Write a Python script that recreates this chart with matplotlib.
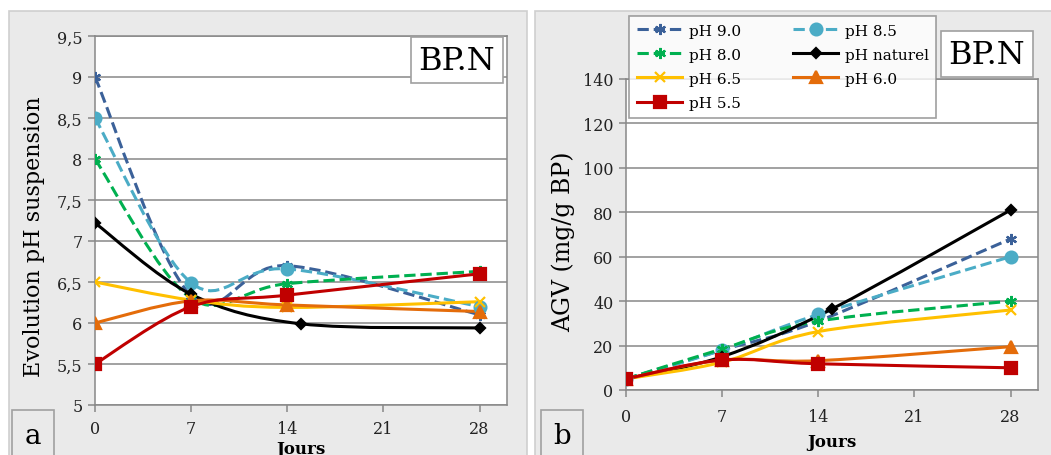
import numpy as np
import matplotlib
matplotlib.use('Agg')
import matplotlib.pyplot as plt
from matplotlib.path import Path
from matplotlib.patches import PathPatch, Rectangle
from matplotlib.lines import Line2D
from matplotlib.ticker import FuncFormatter

plt.rcParams['font.family'] = ['DejaVu Serif']

# --- données ---
jours = [0, 7, 14, 28]
jours_naturel = [0, 7, 15, 28]

labels = ['pH 9.0', 'pH 8.5', 'pH 8.0', 'pH naturel', 'pH 6.5', 'pH 6.0', 'pH 5.5']

# a : évolution du pH de la suspension
ph_90 = [9.0, 6.33, 6.70, 6.10]
ph_85 = [8.5, 6.49, 6.66, 6.20]
ph_80 = [8.0, 6.30, 6.48, 6.63]
ph_nat = [7.22, 6.35, 5.99, 5.94]
ph_65 = [6.5, 6.28, 6.19, 6.26]
ph_60 = [6.0, 6.27, 6.22, 6.14]
ph_55 = [5.5, 6.20, 6.34, 6.60]

# b : AGV (mg/g BP)
agv_90 = [5, 18, 31, 68]
agv_85 = [5, 18, 34, 60]
agv_80 = [5, 18.5, 31, 40]
agv_nat = [5, 15, 36.5, 81]
agv_65 = [5, 12.5, 26.3, 36]
agv_60 = [5, 13.5, 13.2, 19.5]
agv_55 = [5, 13.5, 11.8, 10]

colors = ['#3B6199', '#4BACC6', '#00B050', '#000000', '#FFC000', '#E46C0A', '#C00000']
styles = ['--', '--', '--', '-', '-', '-', '-']
markers = [(6, 2, 0), 'o', (6, 2, 0), 'D', 'x', '^', 's']
msizes = [8, 8.5, 8, 5.5, 7.5, 8, 8]


def smooth_path(x, y):
    """Courbe lissée façon Excel (Bézier type Catmull-Rom)."""
    p = np.column_stack([x, y]).astype(float)
    n = len(p)
    verts = [p[0]]
    codes = [Path.MOVETO]
    for i in range(n - 1):
        p0 = p[i - 1] if i > 0 else p[i]
        p3 = p[i + 2] if i + 2 < n else p[i + 1]
        c1 = p[i] + (p[i + 1] - p0) / 6
        c2 = p[i + 1] - (p3 - p[i]) / 6
        verts += [c1, c2, p[i + 1]]
        codes += [Path.CURVE4] * 3
    return Path(verts, codes)


def draw_series(ax, xs, series):
    for k, ys in enumerate(series):
        patch = PathPatch(smooth_path(xs[k], ys), facecolor='none',
                          edgecolor=colors[k], lw=2.2, linestyle=styles[k],
                          zorder=3, capstyle='butt')
        ax.add_patch(patch)
        ax.plot(xs[k], ys, linestyle='none', marker=markers[k],
                markersize=msizes[k], color=colors[k], mec=colors[k],
                mew=1.6, zorder=4)


fig = plt.figure(figsize=(10.51, 4.56), dpi=100)
fig.patch.set_facecolor('white')

# cadres gris des deux panneaux
for x0 in (9 / 1051, 535 / 1051):
    fig.add_artist(Rectangle((x0, -0.02), 518 / 1051, 1 - 12 / 456 + 0.02,
                             transform=fig.transFigure, facecolor='#EAEAEA',
                             edgecolor='#CFCFCF', lw=1.2, zorder=0))

ax1 = fig.add_axes([95 / 1051, 1 - 406 / 456, 412 / 1051, 369 / 456])
ax2 = fig.add_axes([626 / 1051, 1 - 391 / 456, 412 / 1051, 311 / 456])

xs = [jours, jours, jours, jours_naturel, jours, jours, jours]
draw_series(ax1, xs, [ph_90, ph_85, ph_80, ph_nat, ph_65, ph_60, ph_55])
draw_series(ax2, xs, [agv_90, agv_85, agv_80, agv_nat, agv_65, agv_60, agv_55])

ax1.set_ylim(5, 9.5)
ax1.set_yticks(np.arange(5, 9.51, 0.5))
ax1.yaxis.set_major_formatter(FuncFormatter(
    lambda v, _: ('%g' % v).replace('.', ',')))
ax2.set_ylim(0, 140)
ax2.set_yticks(range(0, 141, 20))

for ax in (ax1, ax2):
    ax.set_facecolor('white')
    ax.set_xlim(0, 30)
    ax.set_xticks([0, 7, 14, 21, 28])
    ax.grid(axis='y', color='#888888', lw=1.1)
    ax.set_axisbelow(True)
    for s in ax.spines.values():
        s.set_color('#888888')
        s.set_linewidth(1.1)
    ax.tick_params(axis='both', colors='#888888', labelcolor='#222222',
                   labelsize=11.5, length=5, width=1.1, pad=4)
ax1.tick_params(axis='x', pad=6)
ax2.tick_params(axis='x', pad=8)

ax1.set_ylabel('Evolution pH suspension', fontsize=16)
ax1.yaxis.set_label_coords(-0.121, 0.458)
ax2.set_ylabel('AGV (mg/g BP)', fontsize=17)
ax2.yaxis.set_label_coords(-0.124, 0.479)
ax1.set_xlabel('Jours', fontsize=12, fontweight='bold')
ax1.xaxis.set_label_coords(0.5, -0.095)
ax2.set_xlabel('Jours', fontsize=12, fontweight='bold')
ax2.xaxis.set_label_coords(0.5, -0.138)

# étiquettes BP.N et a / b
box = dict(boxstyle='square,pad=0.25', facecolor='white', edgecolor='#A0A0A0', lw=1.2)
fig.text(457 / 1051, 1 - 61 / 456, 'BP.N', fontsize=23, ha='center', va='center',
         bbox=box, zorder=6)
fig.text(987 / 1051, 1 - 55 / 456, 'BP.N', fontsize=23, ha='center', va='center',
         bbox=box, zorder=6)
box2 = dict(boxstyle='square,pad=0.45', facecolor='#EAEAEA', edgecolor='#A0A0A0', lw=1.2)
fig.text(33 / 1051, 1 - 437 / 456, 'a', fontsize=20, ha='center', va='center', bbox=box2)
fig.text(562 / 1051, 1 - 437 / 456, 'b', fontsize=20, ha='center', va='center', bbox=box2)

# légende (ordre colonne par colonne)
handles = [Line2D([], [], color=colors[k], linestyle=styles[k], lw=2.2,
                  marker=markers[k], markersize=msizes[k], mew=1.6)
           for k in range(7)]
order = [0, 2, 4, 6, 1, 3, 5]
leg = fig.legend([handles[k] for k in order], [labels[k] for k in order],
                 ncol=2, loc='upper left', bbox_to_anchor=(629 / 1051, 1 - 17 / 456),
                 borderaxespad=0, fontsize=11, frameon=True, fancybox=False,
                 edgecolor='#888888', handlelength=3.0, handletextpad=0.4,
                 columnspacing=3.4, labelspacing=0.66, borderpad=0.5)
leg.get_frame().set_linewidth(1.2)
leg.set_zorder(7)

fig.savefig('out.png', dpi=100, facecolor='white')
